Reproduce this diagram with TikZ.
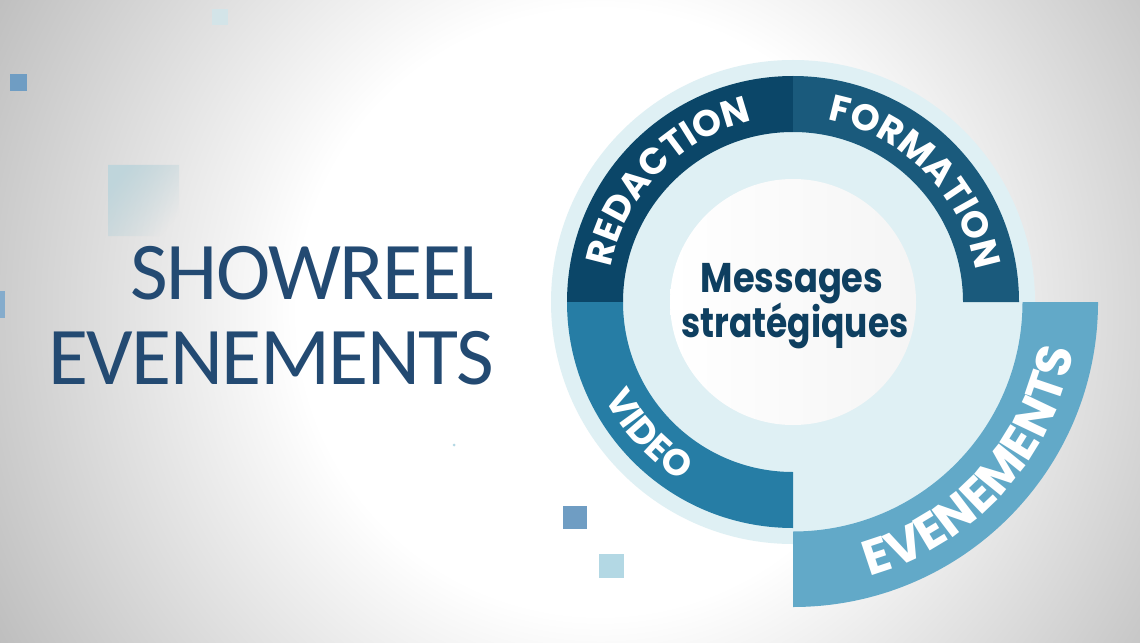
\documentclass[tikz,border=0pt]{standalone}
\usepackage{fontspec}
\setmainfont{Carlito}
\newfontfamily\titlefont{Carlito}[LetterSpace=-1.8]
\newfontfamily\pop{Poppins}
\usetikzlibrary{decorations.text,fadings}
\definecolor{bggray}{HTML}{B8B8B8}
\definecolor{redac}{HTML}{0B4668}
\definecolor{forma}{HTML}{1A5A7C}
\definecolor{video}{HTML}{267DA5}
\definecolor{event}{HTML}{62A9C8}
\definecolor{pale}{HTML}{DFF0F4}
\definecolor{navy}{HTML}{0E3F60}
\definecolor{titleblue}{HTML}{234A72}
\definecolor{sqblue}{HTML}{6F9DC3}
\definecolor{sqlight}{HTML}{B3D8E4}
\definecolor{sqpale}{HTML}{D3E4E8}
\definecolor{sqfaint}{HTML}{BFD5DB}
\pgfdeclareradialshading{bgshade}{\pgfpoint{0bp}{0bp}}{color(0bp)=(white); color(5.4bp)=(white); color(12.9bp)=(bggray); color(50bp)=(bggray)}
\tikzfading[name=sqfade, left color=transparent!0, right color=transparent!100]
\newcommand\ringfont{\pop\bfseries\fontsize{10.5pt}{12pt}\selectfont}
\newcommand\evfont{\pop\bfseries\fontsize{14pt}{16pt}\selectfont}
\begin{document}
\begin{tikzpicture}[x=0.01cm, y=0.01cm,
  title/.style={titleblue, font=\titlefont\fontsize{23.3pt}{26pt}\selectfont, inner sep=0pt, anchor=base east},
  msg/.style={navy, font=\pop\bfseries\fontsize{11.8pt}{14pt}\selectfont, inner sep=0pt, anchor=base},
  ringtext/.style={decorate, decoration={text along path, text align=center, text color=white, text={#1}}}]
  \useasboundingbox (0,0) rectangle (1140,642);
  \begin{scope}
    \clip (0,0) rectangle (1140,642);
    \shade[shading=bgshade] (600,330) circle (1400);
  \end{scope}
  \fill[sqpale] (212,617) rectangle (228,633);
  \fill[sqblue] (10,551) rectangle (27,568);
  \fill[sqfaint, path fading=sqfade, fading transform={rotate=-40}] (108,406) rectangle (179,477);
  \fill[sqblue!85!white] (0,324) rectangle (5,351);
  \fill[sqblue] (563,113) rectangle (587,136);
  \fill[sqlight] (599,64) rectangle (624,88);
  \fill[sqlight] (454,197) circle (1.5);
  \node[title] (S) at (495,343) {SHOWREEL};
  \node[title] (E) at (495,258) {EVENEMENTS};
  \coordinate (c) at (793,340);
  \fill[pale] (c) circle (242);
  \shade[left color=white, middle color=white, right color=black!4] (c) circle (123);
  \foreach \a/\b/\col in {90/180/redac, 0/90/forma, 180/270/video}
    \fill[\col] ([shift={(\a:226)}]c) arc[start angle=\a, end angle=\b, radius=226]
      -- ([shift={(\b:170)}]c) arc[start angle=\b, end angle=\a, radius=170] -- cycle;
  \fill[event] ([shift={(270:305)}]c) arc[start angle=270, end angle=360, radius=305]
    -- ([shift={(0:229.5)}]c) arc[start angle=360, end angle=270, radius=229.5] -- cycle;
  \path[ringtext={|\ringfont|REDACTION}] ([shift={(181:185)}]c) arc[start angle=181, end angle=91, radius=185];
  \path[ringtext={|\ringfont|FORMATION}] ([shift={(89:185)}]c) arc[start angle=89, end angle=0, radius=185];
  \path[ringtext={|\ringfont|VIDEO}] ([shift={(180:211)}]c) arc[start angle=180, end angle=265, radius=211];
  \path[ringtext={|\evfont|EVENEMENTS}] ([shift={(-88:284.5)}]c) arc[start angle=-88, end angle=4, radius=284.5];
  \node[msg] (M) at (792,350) {\scalebox{0.85}[1]{Messages}};
  \node[msg] (T) at (795,305) {\scalebox{0.83}[1]{stratégiques}};
\end{tikzpicture}
\end{document}
